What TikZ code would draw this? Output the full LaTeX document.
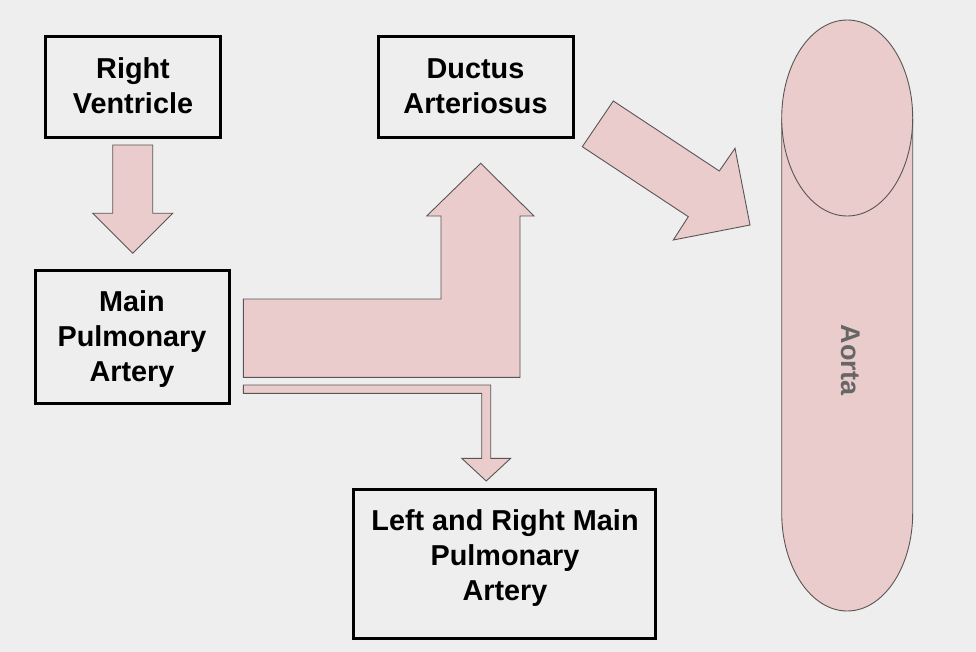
\documentclass[tikz,border=0pt]{standalone}
\usepackage{fontspec}
\setmainfont{Liberation Sans}
\definecolor{bg}{HTML}{EEEEEE}
\definecolor{pinkfill}{HTML}{EACCCC}
\definecolor{outl}{HTML}{5A5555}
\definecolor{aortatext}{HTML}{666666}
\tikzset{
  box/.style={draw=black, line width=3pt, align=center, inner sep=0pt,
    font=\bfseries\fontsize{28.8}{35}\selectfont},
  label/.style={align=center, inner sep=0pt, font=\bfseries\fontsize{28.8}{35}\selectfont},
  blockarrow/.style={fill=pinkfill, draw=outl, line width=0.9pt, line join=miter},
}
\begin{document}
\begin{tikzpicture}[x=1pt,y=-1pt]
\fill[bg] (0,0) rectangle (976,652);
\useasboundingbox (0,0) rectangle (976,652);

% boxes
\node[box, minimum width=175pt, minimum height=101pt] (rv) at (132.5,87.5) {};
\node[label] (rvt) at (133,85.5) {Right\\Ventricle};
\node[box, minimum width=194pt, minimum height=133pt] (mpa) at (132,336.5) {};
\node[label] (mpat) at (132,339.5) {Main\\Pulmonary\\Artery};
\node[box, minimum width=195pt, minimum height=101pt] (da) at (475.5,87.5) {};
\node[label] (dat) at (475.5,86) {Ductus\\Arteriosus};
\node[box, minimum width=302pt, minimum height=149pt] (lr) at (504,563.5) {};
\node[label] (lrt) at (505,558) {Left and Right Main\\Pulmonary\\Artery};

% block arrows
\draw[blockarrow] (112.7,145) -- (152.7,145) -- (152.7,213.3) -- (172.7,213.3) -- (132.7,253.3) -- (92.7,213.3) -- (112.7,213.3) -- cycle;
\draw[blockarrow] (243.3,299) -- (441,299) -- (441,216) -- (426.7,216) -- (480.7,163.3) -- (534,216) -- (520,216) -- (520,377.3) -- (243.3,377.3) -- cycle;
\draw[blockarrow] (243.3,385) -- (490.7,385) -- (490.7,458.3) -- (510.7,458.3) -- (486.2,481) -- (461.7,458.3) -- (481.7,458.3) -- (481.7,393.3) -- (243.3,393.3) -- cycle;
\draw[blockarrow] (613.3,101) -- (719.3,171) -- (735,148.3) -- (750,225) -- (673.3,240) -- (688.3,216.7) -- (582.3,146.7) -- cycle;

% aorta
\fill[pinkfill] (781.7,118) -- (781.7,513) arc[start angle=180, end angle=360, x radius=65.5pt, y radius=98pt] -- (912.7,118) -- cycle;
\draw[outl, line width=0.9pt] (781.7,118) -- (781.7,513) arc[start angle=180, end angle=360, x radius=65.5pt, y radius=98pt] -- (912.7,118);
\draw[blockarrow] (847.2,118) ellipse [x radius=65.5pt, y radius=98pt];
\node[rotate=-90, text=aortatext, font=\bfseries\fontsize{27}{32}\selectfont, inner sep=0pt] (aorta) at (851,360) {Aorta};
\end{tikzpicture}
\end{document}
